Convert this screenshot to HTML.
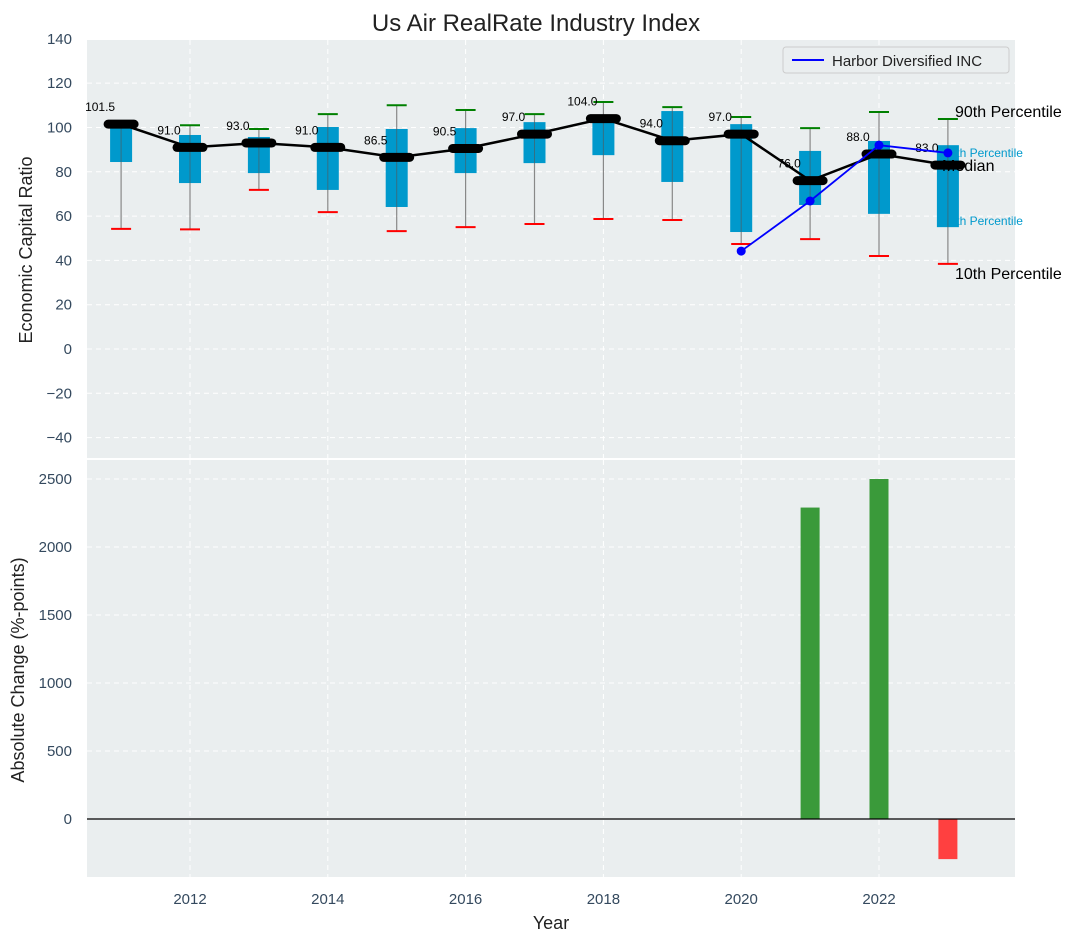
<!DOCTYPE html>
<html><head><meta charset="utf-8"><style>
body{margin:0;background:#fff;}
svg text{font-family:"Liberation Sans","DejaVu Sans",sans-serif;}
</style></head><body>
<svg id="chart" width="1090" height="942" xmlns="http://www.w3.org/2000/svg">
<text x="536" y="31" font-size="24" text-anchor="middle" fill="#222">Us Air RealRate Industry Index</text>
<rect x="87" y="40" width="928" height="418" fill="#eaeeef"/>
<rect x="87" y="460" width="928" height="417" fill="#eaeeef"/>
<g id="grid"></g>
<g id="topg"></g>
<g id="botg"></g>
<text x="32" y="250" font-size="18" fill="#222" text-anchor="middle" transform="rotate(-90 32 250)">Economic Capital Ratio</text>
<text x="24" y="670" font-size="18" fill="#222" text-anchor="middle" transform="rotate(-90 24 670)">Absolute Change (%-points)</text>
<text x="551" y="929" font-size="18" fill="#222" text-anchor="middle">Year</text>
<g>
<rect x="783" y="47" width="226" height="26" rx="3" fill="#eaeeef" stroke="#ccc"/>
<line x1="792" y1="60" x2="824" y2="60" stroke="blue" stroke-width="2"/>
<text x="832" y="66" font-size="15" fill="#222">Harbor Diversified INC</text>
</g>
</svg>
<script>
const years=[2011,2012,2013,2014,2015,2016,2017,2018,2019,2020,2021,2022,2023];
const median=[101.5,91,93,91,86.5,90.5,97,104,94,97,76,88,83];
const q1=[84.4,74.9,79.4,71.8,64.1,79.4,83.9,87.5,75.4,52.8,65,61,55];
const q3=[101.5,96.6,95.7,100.2,99.3,99.7,102.4,105,107.4,101.5,89.4,93.9,92];
const p10=[54.2,54,71.8,61.8,53.2,55,56.4,58.7,58.2,47.4,49.6,42,38.4];
const p90=[101.5,101,99.3,106,110,107.9,106,111.5,109.2,104.7,99.7,107,103.8];
const harborYears=[2020,2021,2022,2023];
const harborVals=[44.2,66.8,92,88.5];
const changeYears=[2021,2022,2023];
const changeVals=[2290,2500,-295];
const topTicks=[-40,-20,0,20,40,60,80,100,120,140];
const botTicks=[0,500,1000,1500,2000,2500];
const xTicks=[2012,2014,2016,2018,2020,2022];

const NS='http://www.w3.org/2000/svg';
const X=y=>190+(y-2012)*68.9;
const YT=v=>349-v*2.2155;
const YB=v=>819-v*0.136;
function mk(tag,attrs,parent,text){const e=document.createElementNS(NS,tag);for(const k in attrs)e.setAttribute(k,attrs[k]);if(text!==undefined)e.textContent=text;parent.appendChild(e);return e;}
const grid=document.getElementById('grid'),topG=document.getElementById('topg'),botG=document.getElementById('botg'),svg=document.getElementById('chart');
xTicks.forEach(t=>{
 let l=mk('line',{x1:X(t),x2:X(t),y1:40,y2:458,stroke:'#fff','stroke-dasharray':'5,4','stroke-width':1},grid);
 
 
 let l2=mk('line',{x1:X(t),x2:X(t),y1:460,y2:877,stroke:'#fff','stroke-dasharray':'5,4','stroke-width':1},grid);
 
 
 let tx=mk('text',{x:X(t),y:904,'font-size':15,fill:'#34495e','text-anchor':'middle'},svg,String(t));
 
 
});
topTicks.forEach(t=>{
 let l=mk('line',{x1:87,x2:1015,y1:YT(t),y2:YT(t),stroke:'#fff','stroke-dasharray':'5,4'},grid);
 
 
 let tx=mk('text',{x:72,y:YT(t)+5,'font-size':15,fill:'#34495e','text-anchor':'end'},svg,(t<0?'\u2212'+(-t):String(t)));
 
 
});
botTicks.forEach(t=>{
 let l=mk('line',{x1:87,x2:1015,y1:YB(t),y2:YB(t),stroke:'#fff','stroke-dasharray':'5,4'},grid);
 
 
 let tx=mk('text',{x:72,y:YB(t)+5,'font-size':15,fill:'#34495e','text-anchor':'end'},svg,String(t));
 
 
});
const last=years.length-1;
let a1=mk('text',{x:X(2023)-5,y:YT(q3[last])+12,'font-size':12,fill:'#0099cc'},topG,'90th Percentile');


let a2=mk('text',{x:X(2023)-5,y:YT(q1[last])-2,'font-size':12,fill:'#0099cc'},topG,'10th Percentile');


years.forEach((y,i)=>{
 const x=X(y);
 let w=mk('line',{x1:x,x2:x,y1:YT(p90[i]),y2:YT(p10[i]),stroke:'#888','stroke-width':1.2},topG);
 
 
 let b=mk('rect',{x:x-11,y:YT(q3[i]),width:22,height:YT(q1[i])-YT(q3[i]),fill:'#0099cc'},topG);
 
 
 let w2=mk('line',{x1:x,x2:x,y1:YT(q3[i]),y2:YT(q1[i]),stroke:'#555','stroke-width':1,opacity:0.6},topG);
 
 
 let c1=mk('line',{x1:x-10,x2:x+10,y1:YT(p90[i]),y2:YT(p90[i]),stroke:'green','stroke-width':2},topG);
 
 
 let c2=mk('line',{x1:x-10,x2:x+10,y1:YT(p10[i]),y2:YT(p10[i]),stroke:'red','stroke-width':2},topG);
 
 
});
let pts=years.map((y,i)=>X(y)+','+YT(median[i])).join(' ');
let ml=mk('polyline',{points:pts,fill:'none',stroke:'#000','stroke-width':2.5},topG);


years.forEach((y,i)=>{
 const x=X(y);
 let m=mk('line',{x1:x-13,x2:x+13,y1:YT(median[i]),y2:YT(median[i]),stroke:'#000','stroke-width':9,'stroke-linecap':'round'},topG);
 
 
 let t=mk('text',{x:x-21,y:YT(median[i])-13,'font-size':12,fill:'#000','text-anchor':'middle'},topG,median[i].toFixed(1));
 
 
});
let hp=harborYears.map((y,i)=>X(y)+','+YT(harborVals[i])).join(' ');
let hl=mk('polyline',{points:hp,fill:'none',stroke:'blue','stroke-width':1.8},topG);


harborYears.forEach((y,i)=>{
 let c=mk('circle',{cx:X(y),cy:YT(harborVals[i]),r:4.5,fill:'blue'},topG);
 
 
});
let t1=mk('text',{x:955,y:YT(p90[last])-2,'font-size':16,fill:'#000'},topG,'90th Percentile');


let t2=mk('text',{x:942,y:YT(median[last])+6,'font-size':16,fill:'#000'},topG,'Median');


let t3=mk('text',{x:955,y:YT(p10[last])+15,'font-size':16,fill:'#000'},topG,'10th Percentile');


changeYears.forEach((y,i)=>{
 const v=changeVals[i];
 let r=mk('rect',{x:X(y)-9.5,y:Math.min(YB(v),YB(0)),width:19,height:Math.abs(YB(v)-YB(0)),fill:v>=0?'#3a9a3a':'#ff4040'},botG);
 
 
});
let z=mk('line',{x1:87,x2:1015,y1:YB(0),y2:YB(0),stroke:'#000','stroke-width':1.2},botG);


</script>
</body></html>
